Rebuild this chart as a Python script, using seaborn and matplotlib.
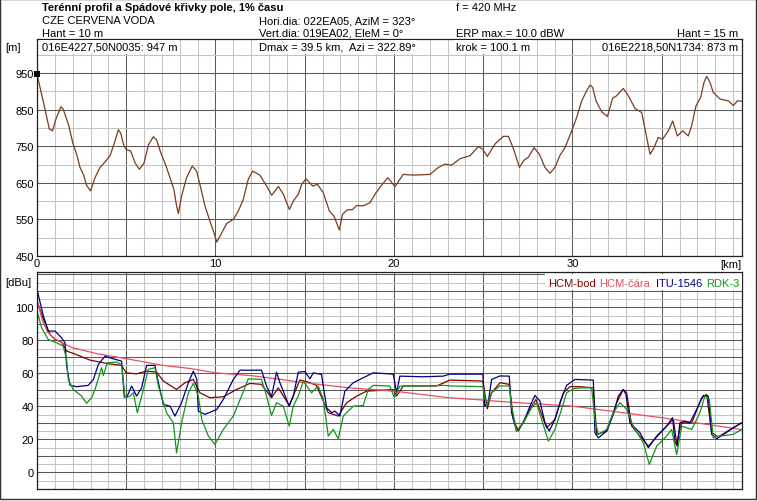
import numpy as np
import pandas as pd
import matplotlib
matplotlib.use("Agg")
import matplotlib.pyplot as plt
import seaborn as sns
from matplotlib.ticker import MultipleLocator, FuncFormatter
from matplotlib.patches import Rectangle

# ---------------- data ----------------
terrain_km = [0, 0.45, 0.69, 0.87, 1.06, 1.34, 1.47, 1.76, 2.0, 2.22, 2.41, 2.6, 2.78, 3.0, 3.25,
              3.53, 3.81, 4.09, 4.31, 4.56, 4.69, 4.87, 5.02, 5.25, 5.49, 5.73, 5.99, 6.24, 6.52,
              6.7, 6.93, 7.23, 7.45, 7.67, 7.82, 7.92, 8.1, 8.38, 8.7, 8.94, 9.17, 9.41, 9.69,
              9.92, 10.07, 10.35, 10.63, 11.0, 11.28, 11.56, 11.84, 12.08, 12.49, 12.87, 13.15,
              13.52, 13.8, 14.14, 14.36, 14.64, 14.83, 15.07, 15.45, 15.71, 16.04, 16.38, 16.64,
              16.94, 17.12, 17.38, 17.68, 17.91, 18.28, 18.66, 18.94, 19.25, 19.65, 20.06, 20.52,
              21.09, 22.02, 22.49, 22.86, 23.23, 23.7, 24.26, 24.73, 24.97, 25.23, 25.66, 26.13,
              26.41, 26.69, 27.03, 27.29, 27.53, 27.85, 28.15, 28.46, 28.74, 29.02, 29.3, 29.58,
              29.96, 30.24, 30.52, 30.8, 30.99, 31.13, 31.32, 31.64, 31.96, 32.25, 32.48, 32.85,
              33.13, 33.51, 33.88, 34.12, 34.35, 34.57, 34.81, 35.05, 35.37, 35.62, 35.88, 36.18,
              36.49, 36.68, 36.92, 37.18, 37.37, 37.52, 37.71, 37.89, 38.27, 38.74, 39.02, 39.24, 39.5]
terrain_m = [947, 851, 797, 792, 824, 858, 851, 810, 760, 728, 692, 673, 643, 628, 664,
             692, 707, 724, 755, 795, 786, 751, 740, 737, 705, 687, 703, 753, 776,
             767, 733, 696, 664, 632, 587, 566, 614, 664, 696, 682, 637, 587, 545,
             513, 488, 513, 539, 550, 573, 605, 660, 682, 671, 641, 616,
             640, 619, 577, 600, 619, 646, 661, 641, 646, 623, 573, 559,
             521, 564, 576, 577, 588, 587, 596, 619, 640, 664, 640, 673,
             671, 673, 692, 701, 698, 716, 724, 749, 742, 722, 756, 777,
             777, 744, 692, 712, 720, 746, 728, 692, 676, 692, 725, 746,
             792, 829, 874, 902, 917, 911, 874, 844, 831, 881, 888, 908,
             888, 853, 842, 783, 728, 746, 774, 769, 792, 819, 778, 792,
             778, 806, 860, 883, 924, 941, 924, 897, 879, 874, 861, 874, 873]

hcm_bod_km = [0, 0.36, 0.73, 1.01, 1.38, 1.66, 2.03, 2.97, 3.90, 4.74, 5.0, 5.58, 6.14, 6.70,
              7.08, 7.82, 8.29, 8.76, 9.13, 9.69, 10.44, 11.18, 11.93, 12.58, 13.14, 13.52,
              14.13, 14.73, 15.20, 15.66, 16.32, 16.88, 17.35, 17.91, 18.47, 19.96, 20.15,
              20.52, 22.39, 23.13, 24.98, 25.23, 25.47, 25.94, 26.46, 26.69, 26.97, 27.71,
              27.96, 28.55, 29.02, 29.49, 29.86, 30.42, 31.17, 31.36, 31.92, 32.48, 32.85,
              33.04, 33.32, 34.25, 35.28, 35.65, 35.84, 36.12, 36.68, 37.24, 37.52, 37.80,
              38.17, 39.01, 39.48]
hcm_bod_db = [104, 92.8, 83.7, 80.6, 79, 73.6, 72.2, 68.1, 66.1, 64.9, 60.4, 59.8, 61.4, 60.8,
              55.4, 50.3, 54.4, 56.4, 48.3, 45.3, 45.9, 50.3, 54, 53.4, 45.3, 51.3,
              40.6, 56, 54.8, 52.8, 36.2, 34.2, 42.3, 46.3, 49.3, 50.3, 46.3,
              52.4, 52.4, 56, 55.4, 38.6, 48.3, 54.4, 53.4, 32.2, 25.1, 40.2,
              44.3, 27.1, 32.2, 48.3, 52, 52, 51.3, 23.1, 25.1, 42.3, 50.3,
              48.3, 28.1, 16, 28.1, 32.2, 18, 30.1, 30.1, 45.3, 47.3, 24.1,
              21.6, 27.1, 30.1]

hcm_cara_km = [0, 0.3, 0.6, 1.0, 1.5, 2.0, 3.35, 5.0, 7.0, 8.6, 10.0, 12.0, 13.6, 15.0, 17.5,
               20.0, 23.1, 25.0, 26.0, 30.0, 35.0, 39.5]
hcm_cara_db = [105, 92, 85, 81, 78, 75.6, 72, 69, 65, 63, 60.4, 58.7, 56.5, 54.4, 51.3,
               49.3, 45.3, 43.9, 43, 40.2, 33.2, 26]

itu_km = [0, 0.36, 0.63, 1.01, 1.38, 1.57, 1.66, 1.85, 2.22, 2.87, 3.16, 3.44, 3.81, 4.27, 4.74,
          4.89, 5.02, 5.30, 5.58, 5.86, 6.14, 6.61, 6.80, 7.08, 7.45, 7.73, 8.10, 8.48, 8.76,
          8.95, 9.04, 9.41, 10.07, 10.44, 11.0, 11.37, 12.58, 12.86, 13.14, 13.42, 13.61, 14.13,
          14.36, 14.64, 15.01, 15.29, 15.48, 15.94, 16.23, 16.51, 16.69, 16.97, 17.25, 17.72,
          18.28, 18.84, 19.96, 20.15, 20.33, 21.64, 22.76, 23.13, 24.98, 25.08, 25.28, 25.47,
          25.94, 26.46, 26.59, 26.87, 27.25, 27.62, 27.90, 28.18, 28.46, 28.70, 29.02, 29.30,
          29.67, 30.14, 31.17, 31.26, 31.45, 31.92, 32.29, 32.57, 32.85, 33.0, 33.22, 33.78,
          34.25, 34.72, 35.28, 35.61, 35.74, 35.87, 36.02, 36.30, 36.58, 36.96, 37.33, 37.61,
          37.80, 38.08, 38.55, 39.01, 39.48]
itu_db = [111, 94.8, 85.7, 85.7, 81.6, 78.6, 64.5, 52.8, 52, 52.8, 56.4, 65.5, 70.5, 68.9, 67.5,
          45.9, 45.3, 52.4, 46.3, 51.3, 64.9, 64.9, 54.4, 41.2, 40.2, 34.2, 42.3, 54.4, 61.4,
          56.4, 37.2, 35.2, 38.2, 44.3, 56.4, 62, 62, 52.4, 45.9, 60.8, 54.4, 40.2,
          46.3, 60.8, 61.2, 56.8, 60.4, 59.4, 39.2, 36.2, 37.2, 34.2, 49.3, 54.4,
          57.4, 60.4, 59.6, 48.3, 58.4, 58, 58.4, 59.6, 59.6, 40.2, 42.3, 56.4,
          58.5, 58.4, 36.2, 25.1, 30.1, 40.2, 46.7, 43.3, 30.1, 25.1, 32.2, 42.3,
          52.8, 56.4, 56, 24.1, 21, 25.1, 35.2, 46.3, 50.3, 47.3, 30.1, 24.1,
          15, 22.1, 28.1, 33.2, 19, 16, 30.1, 31.1, 30.1, 38.2, 46.7, 46.3,
          23.1, 20.4, 23.7, 27.1, 30.1]

rdk_km = [0, 0.26, 0.63, 1.10, 1.47, 1.66, 1.75, 2.03, 2.50, 2.78, 3.06, 3.25, 3.62, 3.72, 3.94,
          4.46, 4.74, 4.93, 5.21, 5.40, 5.62, 5.96, 6.24, 6.61, 6.80, 7.26, 7.64, 7.82, 8.10,
          8.48, 8.76, 9.04, 9.23, 9.60, 9.97, 10.44, 11.0, 11.46, 11.84, 12.58, 12.86, 13.14,
          13.42, 13.80, 14.13, 14.36, 14.64, 14.92, 15.38, 15.76, 16.04, 16.32, 16.60, 16.88,
          17.16, 17.72, 18.28, 18.56, 18.84, 19.77, 20.02, 20.33, 21.27, 22.76, 23.32, 24.98,
          25.19, 25.47, 25.94, 26.46, 26.59, 26.87, 27.25, 27.71, 27.99, 28.27, 28.65, 29.02,
          29.39, 29.67, 30.05, 30.42, 31.08, 31.26, 31.45, 31.92, 32.29, 32.66, 33.04, 33.41,
          33.97, 34.31, 34.72, 35.28, 35.56, 35.84, 36.12, 36.68, 37.14, 37.42, 37.67, 37.89,
          38.26, 39.01, 39.48]
rdk_db = [97.8, 87.7, 80.6, 78.6, 76.6, 68.5, 56.4, 50.3, 46.3, 41.9, 45.3, 50.3, 63.5, 58.8, 66.5,
          66.9, 65.5, 45.3, 46.3, 48.3, 36.2, 50.3, 62.5, 63.5, 52.4, 36.2, 30.1, 11.9, 30.1,
          48.3, 54, 46.3, 32.2, 22.1, 17, 26.1, 34.2, 46.3, 56.8, 56.4, 46.3, 34.6,
          42.3, 40.2, 28.1, 40.2, 46.3, 55.4, 48.3, 52.4, 44.3, 22.1, 26.1, 20.4,
          34.2, 40.2, 40.6, 50.3, 52.8, 52.4, 45.3, 52.4, 52.4, 52.8, 52.4, 52,
          40.2, 48.3, 52.5, 52.4, 40.2, 25.1, 30.1, 39.2, 42.3, 32.2, 19, 26.1,
          38.2, 48.3, 50.7, 51.3, 51.3, 32.2, 23.1, 26.1, 36.2, 42.3, 38.2, 28.1,
          18, 4.9, 16, 22.1, 26.1, 10.9, 28.1, 26.1, 36.2, 46.3, 44.3, 21,
          22.1, 23.1, 26.1]

x_ticks_km = [0, 10, 20, 30]
elev_ticks = [450, 550, 650, 750, 850, 950]
field_ticks = [0, 20, 40, 60, 80, 100]
legend_names = ["HCM-bod", "HCM-čára", "ITU-1546", "RDK-3"]

# ---------------- style ----------------
sns.set_style("white")
plt.rcParams["font.family"] = ["Liberation Sans", "DejaVu Sans"]
FS = 8

W, H = 758, 502
fig = plt.figure(figsize=(W / 100, H / 100), dpi=100)
fig.patch.set_facecolor("white")


def fx(x):
    return x / W


def fy(y):
    return 1 - y / H


L, R = 37, 742
ax1 = fig.add_axes([fx(L), fy(257), (R - L) / W, (257 - 40) / H])
ax2 = fig.add_axes([fx(L), fy(490), (R - L) / W, (490 - 273) / H])

C_TERR = "#7a3d1c"
C_BOD = "#800000"
C_CARA = "#e8505e"
C_ITU = "#000080"
C_RDK = "#12961a"
C_MAJ = "#5a5a5a"
C_MIN = "#c4c4c4"

for ax in (ax1, ax2):
    ax.set_xlim(0, 39.5)
    ax.xaxis.set_major_locator(MultipleLocator(5))
    ax.xaxis.set_minor_locator(MultipleLocator(1))
    ax.grid(which="major", color=C_MAJ, lw=0.75)
    ax.grid(which="minor", color=C_MIN, lw=0.75)
    ax.set_axisbelow(True)
    ax.tick_params(which="both", length=0, labelsize=FS, pad=2.2, colors="black")
    for s in ax.spines.values():
        s.set_color("#202020")
        s.set_linewidth(0.9)

# top panel
ax1.set_ylim(450, 1043)
ax1.yaxis.set_major_locator(MultipleLocator(100))
ax1.yaxis.set_minor_locator(MultipleLocator(50))
ax1.set_yticks(elev_ticks)
ax1.xaxis.set_major_formatter(FuncFormatter(lambda v, p: f"{v:.0f}" if round(v) in x_ticks_km else ""))
ax1.tick_params(axis="x", pad=1.5)

df_t = pd.DataFrame({"km": terrain_km, "m": terrain_m})
sns.lineplot(data=df_t, x="km", y="m", ax=ax1, color=C_TERR, lw=0.9, estimator=None, sort=False)
sns.scatterplot(x=terrain_km[:1], y=terrain_m[:1], ax=ax1, marker="s", s=14, color="black",
                edgecolor="black", linewidth=0, zorder=5, clip_on=False)
ax1.set_xlabel("")
ax1.set_ylabel("")

# bottom panel
ax2.set_ylim(-10, 121.5)
ax2.yaxis.set_major_locator(MultipleLocator(10))
ax2.yaxis.set_minor_locator(MultipleLocator(5))
ax2.yaxis.set_major_formatter(FuncFormatter(lambda v, p: f"{v:.0f}" if round(v) in field_ticks else ""))
ax2.xaxis.set_major_formatter(FuncFormatter(lambda v, p: ""))

series = [
    (hcm_bod_km, hcm_bod_db, C_BOD),
    (hcm_cara_km, hcm_cara_db, C_CARA),
    (itu_km, itu_db, C_ITU),
    (rdk_km, rdk_db, C_RDK),
]
for xs, ys, c in series:
    d = pd.DataFrame({"km": xs, "dbu": ys})
    sns.lineplot(data=d, x="km", y="dbu", ax=ax2, color=c, lw=0.9, estimator=None, sort=False)
ax2.set_xlabel("")
ax2.set_ylabel("")

# legend as coloured words
ax2.add_patch(Rectangle((fx(545), fy(291)), fx(742) - fx(545), (291 - 275) / H,
                        transform=fig.transFigure, facecolor="white", edgecolor="none", zorder=3))
for name, xpos, c in zip(legend_names, [548, 599, 656, 706], [C_BOD, C_CARA, C_ITU, C_RDK]):
    fig.text(fx(xpos), fy(284), name, color=c, fontsize=FS, ha="left", va="center", zorder=4)

# header texts
def t(x, y, s, ha="left", **kw):
    fig.text(fx(x), fy(y), s, ha=ha, va="center", fontsize=FS, color="black", **kw)

t(42, 8, "Terénní profil a Spádové křivky pole, 1% času", fontweight="bold")
t(42, 21, "CZE CERVENA VODA")
t(42, 34, "Hant = 10 m")
t(259, 21, "Hori.dia: 022EA05, AziM = 323°")
t(259, 34, "Vert.dia: 019EA02, EleM = 0°")
t(456, 8, "f = 420 MHz")
t(456, 34, "ERP max.= 10.0 dBW")
t(738, 34, "Hant = 15 m", ha="right")

bb = dict(facecolor="white", edgecolor="none", pad=1.2)
t(5, 48, "[m]")
t(42, 48, "016E4227,50N0035: 947 m", bbox=bb, zorder=5)
t(259, 48, "Dmax = 39.5 km,  Azi = 322.89°", bbox=bb, zorder=5)
t(456, 48, "krok = 100.1 m", bbox=bb, zorder=5)
t(738, 48, "016E2218,50N1734: 873 m", ha="right", bbox=bb, zorder=5)
t(741, 265, "[km]", ha="right")
t(5, 283, "[dBu]")

fig.patches.append(Rectangle((0, fy(500)), fx(755.5), 1 - fy(500) - 0.0005, transform=fig.transFigure,
                             fill=False, edgecolor="#303030", lw=1.0))

fig.savefig("out.png", dpi=100, facecolor="white")
